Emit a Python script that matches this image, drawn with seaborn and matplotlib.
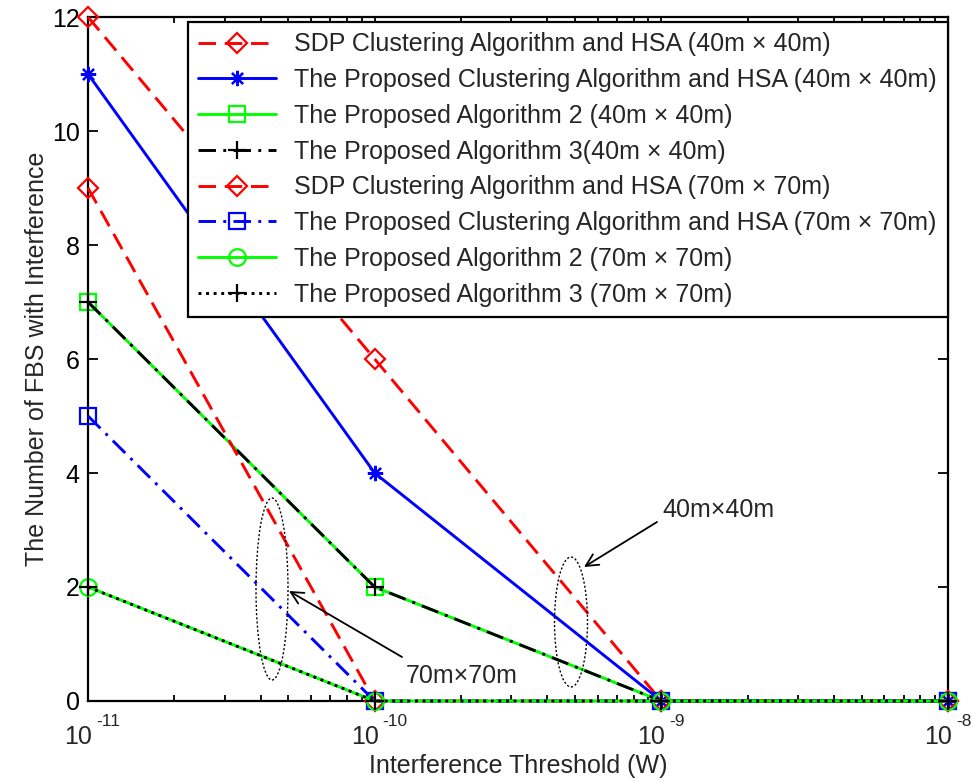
import numpy as np
import pandas as pd
import matplotlib
matplotlib.use("Agg")
import matplotlib.pyplot as plt
import matplotlib.transforms as mtransforms
import seaborn as sns
from matplotlib.patches import Ellipse

# ---- data ----
thresholds = [1e-11, 1e-10, 1e-9, 1e-8]
sdp_40 = [12, 6, 0, 0]
prop_clu_40 = [11, 4, 0, 0]
alg2_40 = [7, 2, 0, 0]
alg3_40 = [7, 2, 0, 0]
sdp_70 = [9, 0, 0, 0]
prop_clu_70 = [5, 0, 0, 0]
alg2_70 = [2, 0, 0, 0]
alg3_70 = [2, 0, 0, 0]

labels = [
    "SDP Clustering Algorithm and HSA (40m \u00d7 40m)",
    "The Proposed Clustering Algorithm and HSA (40m \u00d7 40m)",
    "The Proposed Algorithm 2 (40m \u00d7 40m)",
    "The Proposed Algorithm 3(40m \u00d7 40m)",
    "SDP Clustering Algorithm and HSA (70m \u00d7 70m)",
    "The Proposed Clustering Algorithm and HSA (70m \u00d7 70m)",
    "The Proposed Algorithm 2 (70m \u00d7 70m)",
    "The Proposed Algorithm 3 (70m \u00d7 70m)",
]
series = [sdp_40, prop_clu_40, alg2_40, alg3_40, sdp_70, prop_clu_70, alg2_70, alg3_70]

yticks = [0, 2, 4, 6, 8, 10, 12]
xlabel = "Interference Threshold (W)"
ylabel = "The Number of FBS with Interference"
note_40 = "40m\u00d740m"
note_70 = "70m\u00d770m"

# ---- styles ----
DASH = (0, (6, 3))
DASHDOT = (0, (6, 2.5, 1, 2.5))
DOT = (0, (1, 1.6))
styles = [
    dict(color=(1, 0, 0), linestyle=DASH, marker="D", ms=10, mfc="none"),
    dict(color=(0, 0, 1), linestyle="-", marker=(8, 2, 0), ms=11, mfc=(0, 0, 1)),
    dict(color=(0, 1, 0), linestyle="-", marker="s", ms=12, mfc="none"),
    dict(color=(0, 0, 0), linestyle=DASHDOT, marker="+", ms=13, mfc="none"),
    dict(color=(1, 0, 0), linestyle=DASH, marker="D", ms=10, mfc="none"),
    dict(color=(0, 0, 1), linestyle=DASHDOT, marker="s", ms=12, mfc="none"),
    dict(color=(0, 1, 0), linestyle="-", marker="o", ms=12, mfc="none"),
    dict(color=(0, 0, 0), linestyle=DOT, marker="+", ms=13, mfc="none"),
]

sns.set_style("ticks")
plt.rcParams["font.family"] = ["Liberation Sans", "DejaVu Sans"]

FS = 18

fig = plt.figure(figsize=(9.73, 7.82), dpi=100)
AX_L, AX_R, AX_T, AX_B = 88, 948, 17, 701
AW, AH = AX_R - AX_L, AX_B - AX_T
ax = fig.add_axes([AX_L / 973, 1 - AX_B / 782, AW / 973, AH / 782])
ax.set_xscale("log")

for vals, lab, st in zip(series, labels, styles):
    df = pd.DataFrame({"x": thresholds, "y": vals})
    sns.lineplot(data=df, x="x", y="y", ax=ax, color=st["color"],
                 linestyle=st["linestyle"], linewidth=2.1,
                 marker=st["marker"], markersize=st["ms"],
                 markerfacecolor=st["mfc"], markeredgecolor=st["color"],
                 markeredgewidth=1.6, label=lab, errorbar=None,
                 clip_on=False, zorder=3)

ax.set_xlim(thresholds[0], thresholds[-1])
ax.set_ylim(0, 12)
ax.set_yticks(yticks)
ax.set_xticks(thresholds)
ax.set_xticklabels([])


def ax_xy(px, py):
    return ((px - AX_L) / AW, (AX_B - py) / AH)


# MATLAB-like tick labels: "10" with a raised exponent
blend = mtransforms.blended_transform_factory(ax.transData, ax.transAxes)
base_tr = mtransforms.offset_copy(blend, fig=fig, x=4, y=0, units="dots")
exp_tr = mtransforms.offset_copy(blend, fig=fig, x=8, y=0, units="dots")
for t in thresholds:
    e = int(round(np.log10(t)))
    ax.text(t, ax_xy(0, 744)[1], "10", transform=base_tr, fontsize=FS,
            ha="right", va="baseline", clip_on=False)
    ax.text(t, ax_xy(0, 726)[1], f"{e}", transform=exp_tr, fontsize=12.5,
            ha="left", va="baseline", clip_on=False)

ax.set_xlabel(xlabel, fontsize=FS)
ax.set_ylabel(ylabel, fontsize=FS)
ax.xaxis.set_label_coords(0.5, ax_xy(0, 754)[1])
ax.yaxis.set_label_coords(ax_xy(49, 0)[0], 0.5)

for s in ax.spines.values():
    s.set_visible(True)
    s.set_linewidth(1.6)
    s.set_color("black")
ax.tick_params(which="both", direction="in", top=True, right=True,
               labelsize=FS, colors="black", width=1.3)
ax.tick_params(axis="x", which="major", length=7, pad=7)
ax.tick_params(axis="y", which="major", length=7, pad=6)
ax.tick_params(which="minor", length=4.5)
ax.grid(False)

leg = ax.legend(loc="upper right", bbox_to_anchor=(0.9995, 0.993), fontsize=FS,
                frameon=True, fancybox=False, framealpha=1, edgecolor="black",
                handlelength=3.1, handletextpad=0.75, labelspacing=0.47,
                borderpad=0.42, borderaxespad=0.0, numpoints=1)
leg.get_frame().set_linewidth(1.6)

# dotted ellipses grouping the curves
for (cx, cy, w, h) in [(571, 622, 33, 130), (272, 589, 32, 182)]:
    e = Ellipse(ax_xy(cx, cy), w / AW, h / AH, transform=ax.transAxes, fill=False,
                edgecolor="black", linestyle=(0, (1.5, 1.5)), linewidth=1.0, zorder=5)
    ax.add_patch(e)

# annotations
arrow = dict(arrowstyle="->", color="black", lw=1.3, shrinkA=0, shrinkB=0,
             mutation_scale=22)
ax.annotate("", xy=ax_xy(584, 567), xycoords="axes fraction",
            xytext=ax_xy(657, 522), textcoords="axes fraction", arrowprops=arrow)
ax.text(*ax_xy(662, 510), note_40, transform=ax.transAxes,
        fontsize=FS, ha="left", va="center")
ax.annotate("", xy=ax_xy(289, 591), xycoords="axes fraction",
            xytext=ax_xy(402, 657), textcoords="axes fraction", arrowprops=arrow)
ax.text(*ax_xy(406, 676), note_70, transform=ax.transAxes,
        fontsize=FS, ha="left", va="center")

fig.savefig("out.png", dpi=100)
